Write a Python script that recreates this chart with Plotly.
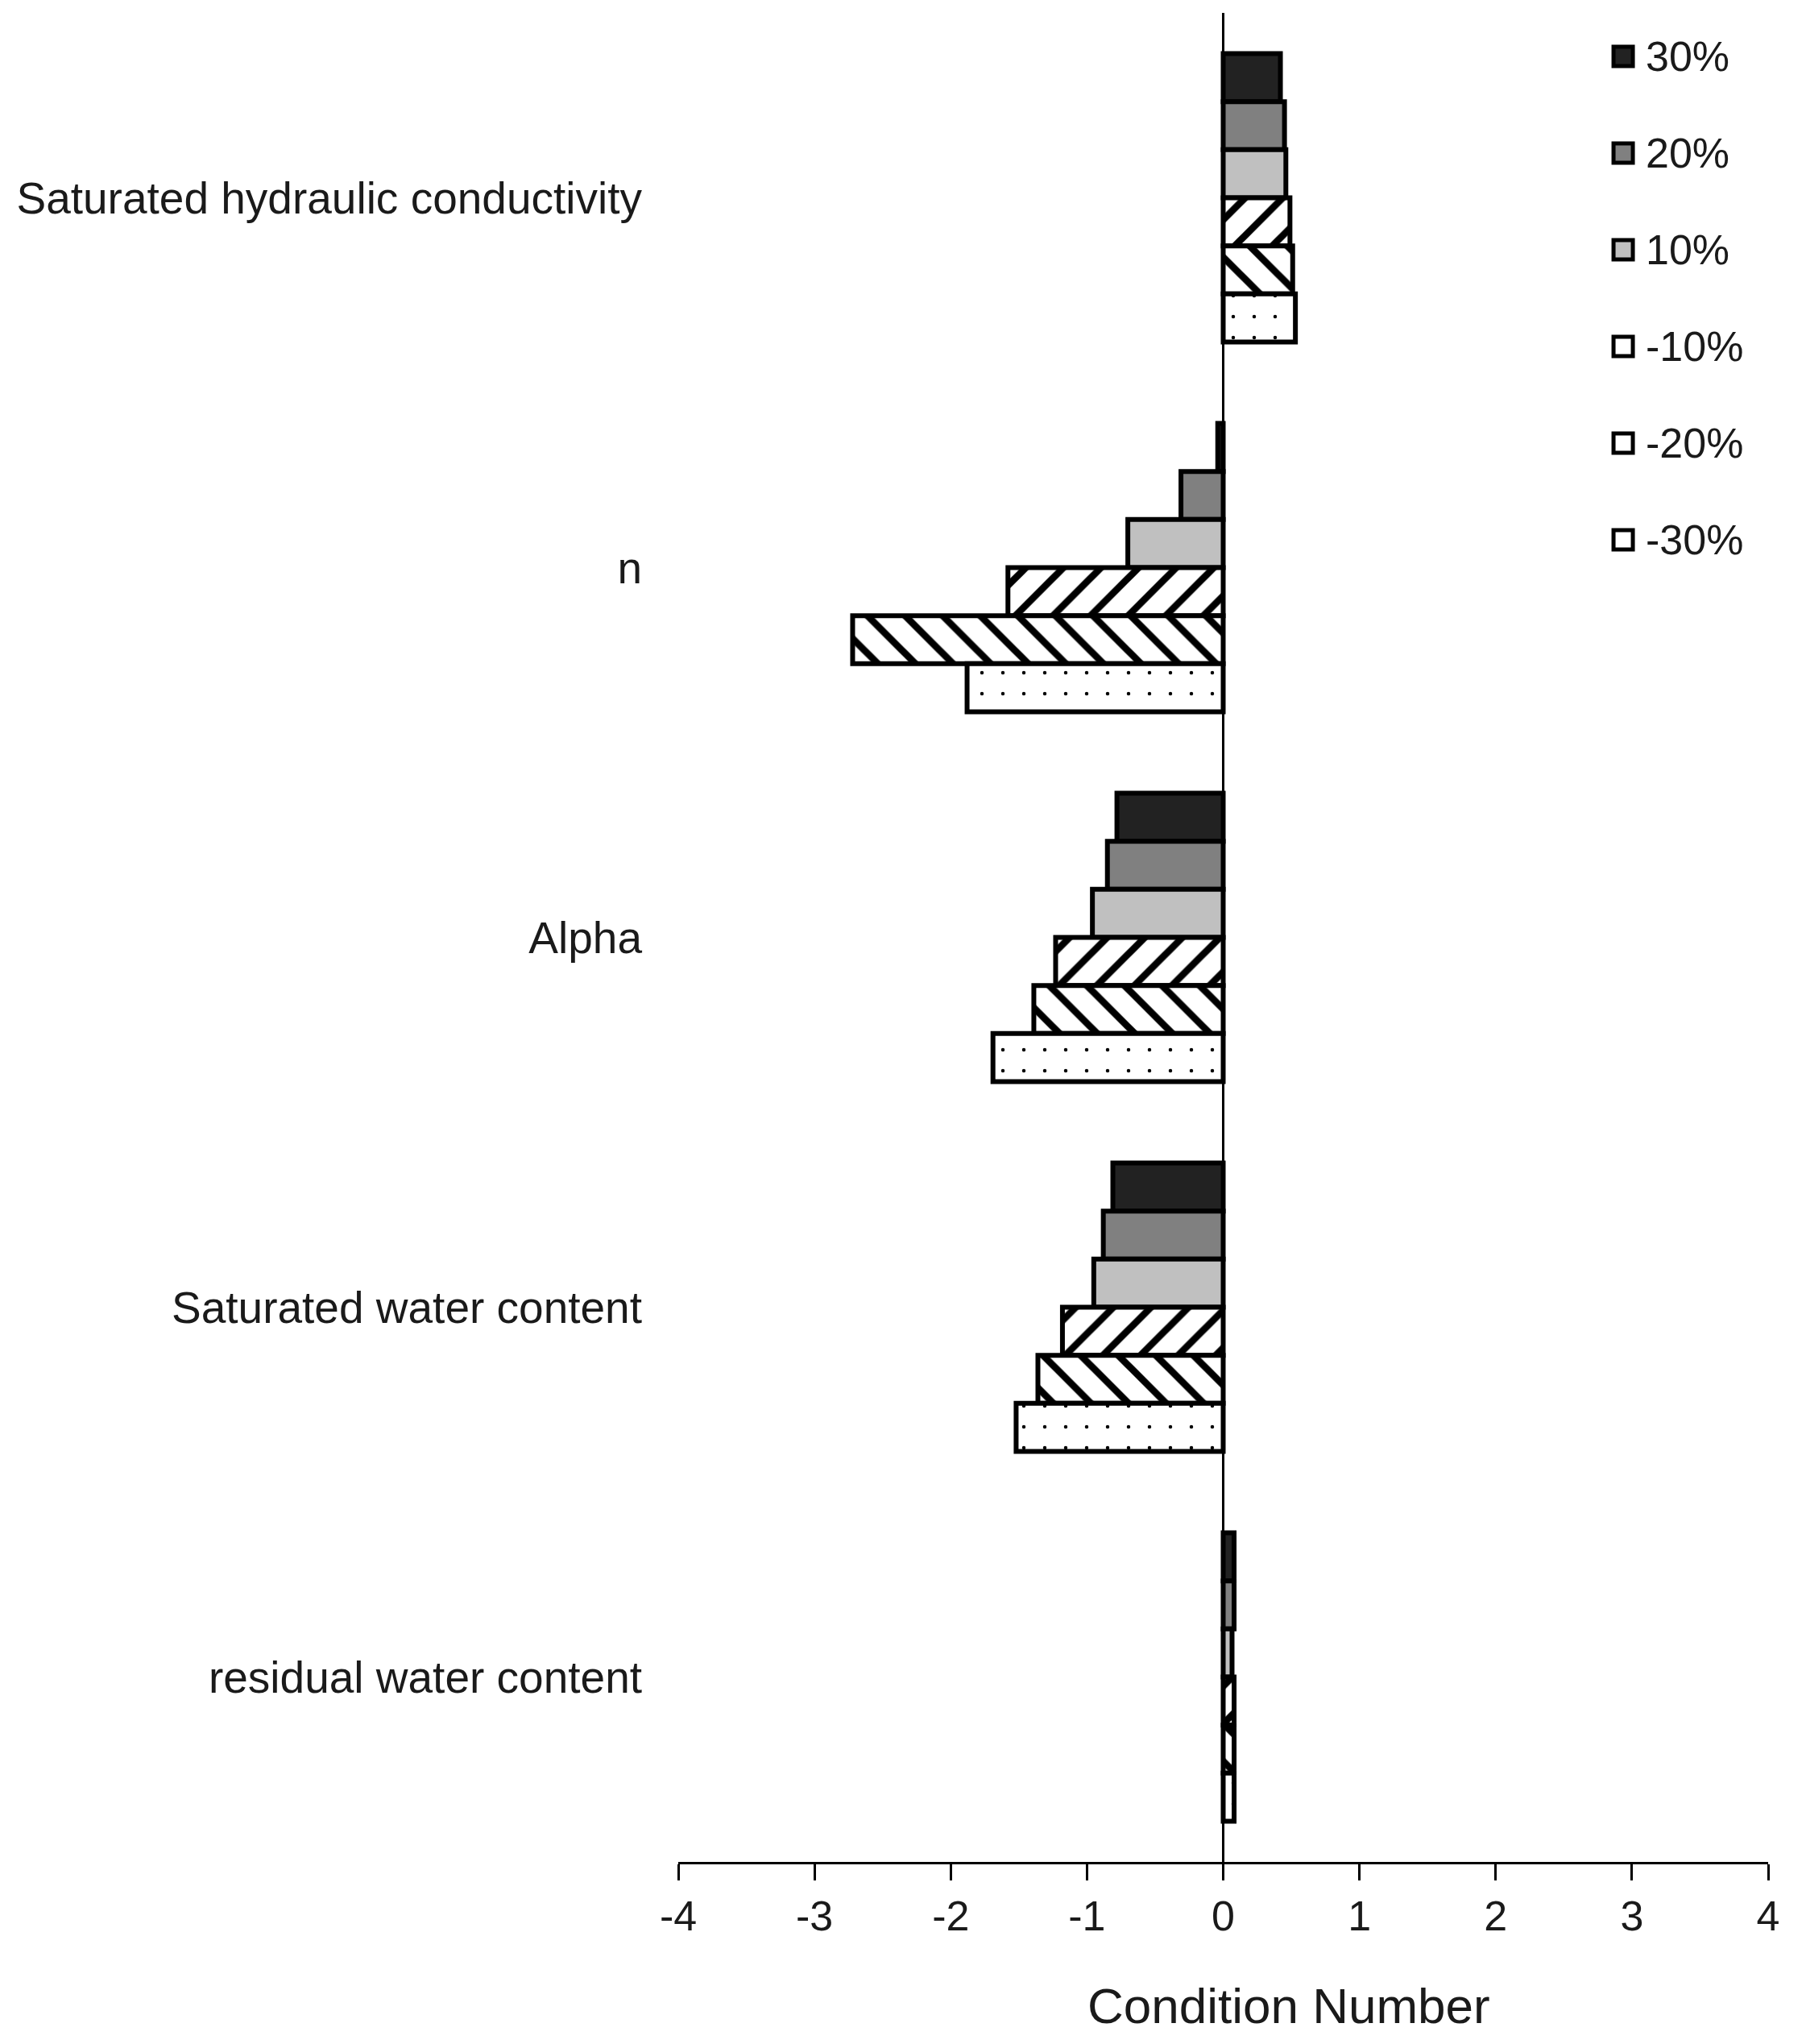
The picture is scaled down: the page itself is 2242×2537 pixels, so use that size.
import plotly.graph_objects as go


# =====================================================
# DATA
# =====================================================

parameters = [
    "Saturated hydraulic conductivity",
    "n",
    "Alpha",
    "Saturated water content",
    "residual water content",
]

change_labels = ["30%", "20%", "10%", "-10%", "-20%", "-30%"]

cn_plus30 = [0.42, -0.04, -0.78, -0.81, 0.08]
cn_plus20 = [0.45, -0.31, -0.85, -0.88, 0.08]
cn_plus10 = [0.46, -0.70, -0.96, -0.95, 0.065]
cn_minus10 = [0.49, -1.58, -1.23, -1.18, 0.08]
cn_minus20 = [0.51, -2.72, -1.39, -1.36, 0.08]
cn_minus30 = [0.53, -1.88, -1.69, -1.52, 0.08]

x_ticks = [-4, -3, -2, -1, 0, 1, 2, 3, 4]

series = [cn_plus30, cn_plus20, cn_plus10, cn_minus10, cn_minus20, cn_minus30]


# =====================================================
# STYLES
# =====================================================

fills = ["#222222", "#808080", "#c0c0c0", "white", "white", "white"]
patterns = [
    dict(shape=""),
    dict(shape=""),
    dict(shape=""),
    dict(shape="/", size=33, solidity=0.26, fgcolor="black", bgcolor="white", fillmode="replace"),
    dict(shape="\\", size=33, solidity=0.26, fgcolor="black", bgcolor="white", fillmode="replace"),
    dict(shape=".", size=26, solidity=0.023, fgcolor="black", bgcolor="white", fillmode="replace"),
]

FONT = "Liberation Sans, Arial, sans-serif"
TEXT = "#1a1a1a"

# the page body keeps its default 8px margin, so the figure is 8px smaller
W, H = 2234, 2529


# =====================================================
# FIGURE
# =====================================================

fig = go.Figure()

for name, vals, fill, pat in zip(change_labels, series, fills, patterns):
    fig.add_trace(
        go.Bar(
            y=parameters,
            x=vals,
            name=name,
            orientation="h",
            marker=dict(
                color=fill,
                pattern=pat,
                line=dict(color="black", width=6),
            ),
            showlegend=False,
        )
    )

# hand-made legend (bigger swatches than plotly's fixed 12px icons)
leg_top = 0.9765
leg_step = 0.0523
for i, (name, fill) in enumerate(zip(change_labels, fills)):
    yc = leg_top - i * leg_step
    fig.add_shape(
        type="rect",
        xref="paper", yref="paper",
        xsizemode="pixel", ysizemode="pixel",
        xanchor=0.867, yanchor=yc,
        x0=-12, x1=12, y0=-12, y1=12,
        fillcolor=fill,
        line=dict(color="black", width=5),
    )
    fig.add_annotation(
        x=0.886, y=yc,
        xref="paper", yref="paper",
        xanchor="left", yanchor="middle",
        text=name,
        showarrow=False,
        font=dict(size=52, color=TEXT, family=FONT),
    )

# axis title, sits a bit right of centre in the original
fig.add_annotation(
    x=0.56, y=0,
    xref="paper", yref="paper",
    xanchor="center", yanchor="middle",
    yshift=-178,
    text="Condition Number",
    showarrow=False,
    font=dict(size=62, color=TEXT, family=FONT),
)

fig.update_layout(
    width=W,
    height=H,
    paper_bgcolor="white",
    plot_bgcolor="white",
    margin=dict(l=834, r=47, t=8, b=226),
    barmode="group",
    bargap=0.22,
    bargroupgap=0,
    font=dict(family=FONT, color=TEXT),
    showlegend=False,
)

fig.update_xaxes(
    range=[-4, 4],
    tickvals=x_ticks,
    ticktext=[str(t) for t in x_ticks],
    showgrid=False,
    showline=True,
    linecolor="black",
    linewidth=3,
    ticks="outside",
    ticklen=20,
    tickwidth=3,
    tickcolor="black",
    tickfont=dict(size=52, color=TEXT, family=FONT),
    zeroline=True,
    zerolinecolor="black",
    zerolinewidth=3,
)

fig.update_yaxes(
    categoryorder="array",
    categoryarray=parameters,
    autorange="reversed",
    showgrid=False,
    showline=False,
    ticks="",
    ticklabelstandoff=44,
    tickfont=dict(size=55, color=TEXT, family=FONT),
)

fig.write_html("out.html")
